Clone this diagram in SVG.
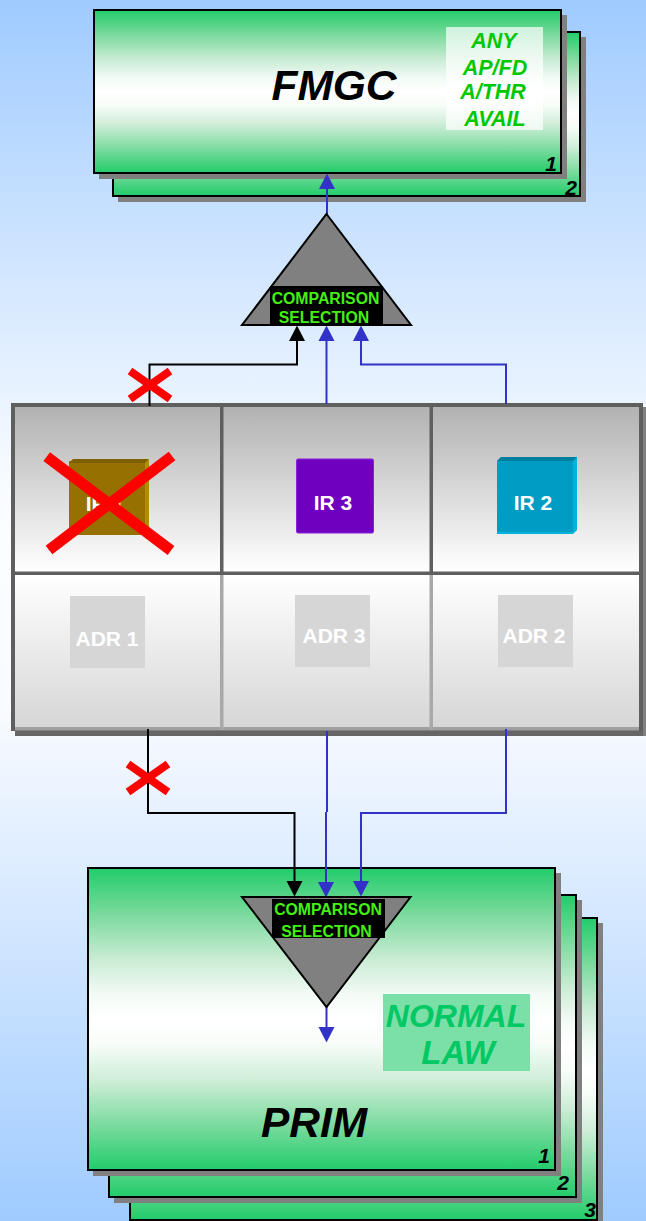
<svg xmlns="http://www.w3.org/2000/svg" width="646" height="1221" viewBox="0 0 646 1221">
<style>
text{font-family:"Liberation Sans",Arial,sans-serif;font-weight:bold;text-anchor:middle}
.card{stroke:#000;stroke-width:2;fill:url(#cardGrad)}
.shadow{fill:#808080}
.title{font-size:42.500px;font-style:italic;fill:#000}
.num{font-size:21px;font-style:italic;fill:#000}
.any{font-size:21.500px;font-style:italic;fill:#00c800}
.cmp{font-size:15.800px;fill:#44f011}
.tri{fill:#808080;stroke:#000;stroke-width:2;stroke-linejoin:miter}
.unit{font-size:21px;fill:#fff}
.adrbox{fill:#d6d6d6}
.blue{fill:none;stroke:#3232c8;stroke-width:2;marker-end:url(#ab)}
.black{fill:none;stroke:#000;stroke-width:2;marker-end:url(#ak)}
.plain{fill:none;stroke:#3232c8;stroke-width:2}
.cross{stroke:#f00;fill:none}
</style>
<defs>
<linearGradient id="bg" x1="0" y1="0" x2="0" y2="1">
<stop offset="0" stop-color="#9fcbff"/><stop offset="0.38" stop-color="#f6faff"/><stop offset="0.44" stop-color="#fcfdff"/><stop offset="0.58" stop-color="#f9fbff"/><stop offset="1" stop-color="#9fcbff"/>
</linearGradient>
<linearGradient id="cardGrad" x1="0" y1="0" x2="0" y2="1">
<stop offset="0" stop-color="#22cc6a"/><stop offset="0.15" stop-color="#79da9c"/><stop offset="0.3" stop-color="#c8ebd3"/><stop offset="0.42" stop-color="#f3fbf6"/><stop offset="0.5" stop-color="#fff"/><stop offset="0.58" stop-color="#f8fdf9"/><stop offset="0.7" stop-color="#d0eed9"/><stop offset="0.85" stop-color="#7cdb9f"/><stop offset="1" stop-color="#22cc6a"/>
</linearGradient>
<linearGradient id="upper" x1="0" y1="0" x2="0" y2="1">
<stop offset="0" stop-color="#b2b2b2"/><stop offset="1" stop-color="#fff"/>
</linearGradient>
<linearGradient id="lower" x1="0" y1="0" x2="0" y2="1">
<stop offset="0" stop-color="#fff"/><stop offset="1" stop-color="#d6d6d6"/>
</linearGradient>
<marker id="ab" markerUnits="userSpaceOnUse" markerWidth="17" markerHeight="17" refX="7" refY="8.500" orient="auto"><path d="M0 0.500L15.500 8.500L0 16.500z" fill="#3232c8"/></marker>
<marker id="ak" markerUnits="userSpaceOnUse" markerWidth="17" markerHeight="17" refX="7" refY="8.500" orient="auto"><path d="M0 0.500L15.500 8.500L0 16.500z" fill="#000"/></marker>
</defs>
<rect id="background" width="646" height="1221" fill="url(#bg)"/>

<g id="fmgc-2"><rect class="shadow" x="118" y="37" width="468" height="165"/><rect class="card" x="113" y="32" width="467" height="164"/><text class="num" x="571" y="195">2</text></g>
<g id="fmgc-1"><rect class="shadow" x="99" y="15" width="468" height="164"/><rect class="card" x="94" y="10" width="467" height="163"/>
<text class="title" x="334" y="99.500">FMGC</text>
<rect x="446" y="27" width="97" height="103" fill="#fff" fill-opacity=".7"/>
<text class="any" x="494" y="48">ANY</text><text class="any" x="495" y="75">AP/FD</text><text class="any" x="493" y="99">A/THR</text><text class="any" x="495" y="126">AVAIL</text>
<text class="num" x="551" y="171">1</text></g>

<g id="prim-3"><rect class="shadow" x="135" y="923" width="468" height="303"/><rect class="card" x="130" y="918" width="467" height="302"/><text class="num" x="590" y="1217">3</text></g>
<g id="prim-2"><rect class="shadow" x="114" y="900" width="468" height="303"/><rect class="card" x="109" y="895" width="467" height="302"/><text class="num" x="563" y="1190">2</text></g>
<g id="prim-1"><rect class="shadow" x="93" y="873" width="468" height="303"/><rect class="card" x="88" y="868" width="467" height="302"/>
<rect x="383" y="994" width="147" height="77" fill="#7be0a8"/>
<text x="456" y="1027" font-size="32" font-style="italic" fill="#00c864">NORMAL</text>
<text x="458" y="1064" font-size="33" font-style="italic" fill="#00c864">LAW</text>
<text class="title" x="314" y="1137">PRIM</text>
<text class="num" x="544" y="1163">1</text></g>

<g id="adiru-panel">
<rect x="15" y="407" width="631" height="329" fill="#666"/>
<rect x="643" y="407" width="3" height="329" fill="#808080"/>
<rect x="11" y="403" width="632" height="328" fill="#5f5f5f"/>
<rect x="15" y="407" width="624" height="164.500" fill="url(#upper)"/>
<rect x="15" y="575" width="624" height="152" fill="url(#lower)"/>
<rect x="15" y="727" width="624" height="3.500" fill="#a0a0a0"/>
<rect x="220" y="407" width="3.500" height="165" fill="#5f5f5f"/>
<rect x="429.500" y="407" width="3.500" height="165" fill="#5f5f5f"/>
<rect x="220" y="575" width="3.500" height="155" fill="#a8a8a8"/>
<rect x="429.500" y="575" width="3.500" height="155" fill="#a8a8a8"/>
</g>

<g id="ir-1"><rect x="69" y="461" width="80" height="74" fill="#967000"/><path d="M73 459H149L145 463H69z" fill="#7f6000"/><path d="M149 459V531L145 535V463z" fill="#b38c00"/><text class="unit" x="105" y="510.500">IR 1</text></g>
<g id="ir-3"><rect x="296.500" y="459" width="77" height="74" rx="1.500" fill="#7000c0" stroke="#8a20d8" stroke-width="1"/><text class="unit" x="333" y="510">IR 3</text></g>
<g id="ir-2"><path d="M497 461L501 457H577V530L573 534H497z" fill="#00b4dc"/><path d="M501 457H577L573 461H497z" fill="#007f9f"/><rect x="497" y="461" width="76" height="71" fill="#009cc4"/><text class="unit" x="533" y="510">IR 2</text></g>
<g id="adr-1"><rect class="adrbox" x="70" y="596" width="75" height="72"/><text class="unit" x="107" y="646">ADR 1</text></g>
<g id="adr-3"><rect class="adrbox" x="295" y="595" width="75" height="72"/><text class="unit" x="334" y="643">ADR 3</text></g>
<g id="adr-2"><rect class="adrbox" x="498" y="595" width="75" height="72"/><text class="unit" x="534" y="643">ADR 2</text></g>

<g id="connectors">
<path class="black" d="M149.500 406V364.500H297V334"/>
<path class="blue" d="M326.500 404V334"/>
<path class="blue" d="M506 404V364.500H361V334"/>
<path class="blue" d="M327 214V182"/>
<path class="black" d="M148 729V813H294.500V888"/>
<path class="plain" d="M327 731V812"/>
<path class="blue" d="M326 812V889"/>
<path class="blue" d="M506 729V813H361V888"/>
<path class="blue" d="M326.500 1007V1034"/>
</g>

<g id="selector-top"><path class="tri" d="M326.500 214L411 325H242z"/><rect x="270" y="286" width="113" height="40" fill="#000"/>
<text class="cmp" x="325.500" y="304">COMPARISON</text><text class="cmp" x="324" y="323">SELECTION</text></g>
<g id="selector-bottom"><path class="tri" d="M242 897H410.500L326.500 1007z"/><rect x="272" y="899" width="113" height="39" fill="#000"/>
<text class="cmp" x="328" y="915">COMPARISON</text><text class="cmp" x="326.500" y="937">SELECTION</text></g>

<g id="failures">
<path class="cross" stroke-width="8" d="M130 371L170 399M170 371L130 399"/>
<path class="cross" stroke-width="8" d="M128 764L168 792M168 764L128 792"/>
<path class="cross" stroke-width="11" d="M46.700 456.700L171 550.500M172 456L49 550"/>
</g>
</svg>
